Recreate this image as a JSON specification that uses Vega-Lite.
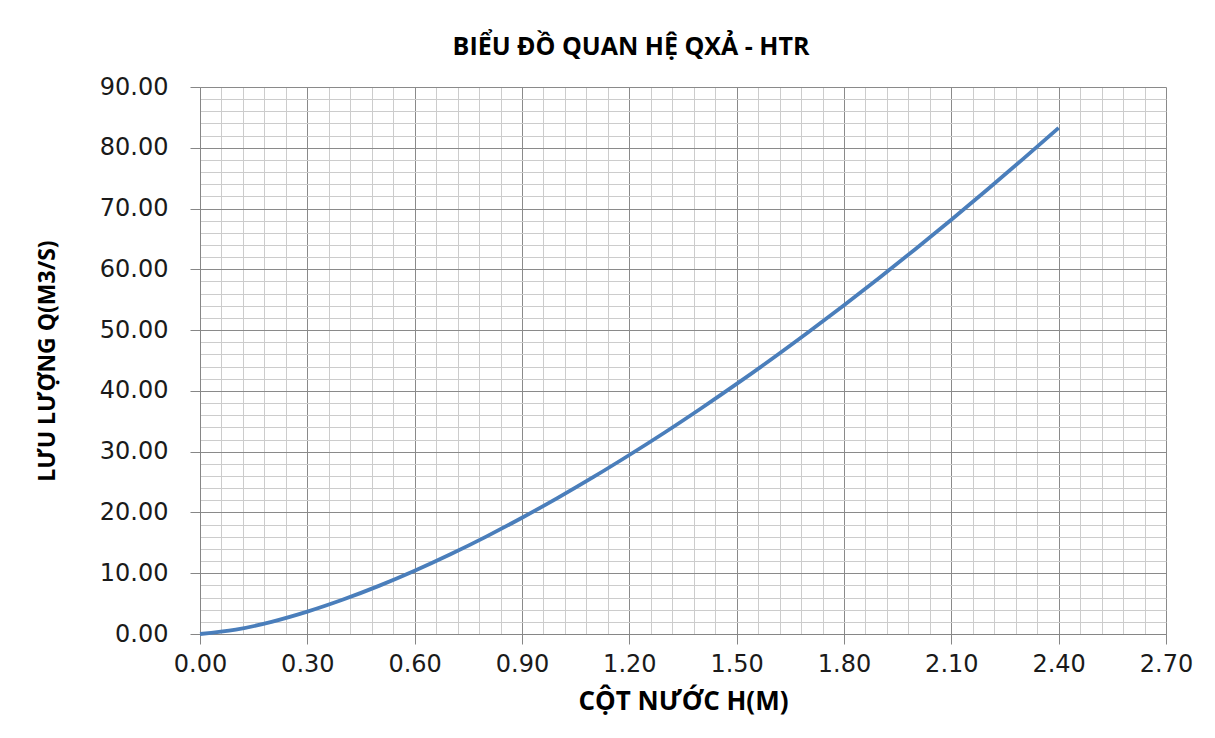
{
  "$schema": "https://vega.github.io/schema/vega-lite/v6.json",
  "width": 966,
  "height": 547,
  "autosize": "none",
  "padding": {"left": 200, "top": 87, "right": 49, "bottom": 104},
  "background": "white",
  "config": {"view": {"stroke": null}},
  "title": {
    "text": "BIỂU ĐỒ QUAN HỆ QXẢ - HTR",
    "font": "Open Sans",
    "fontWeight": "bold",
    "fontSize": 25,
    "color": "#000000",
    "offset": 15,
    "dx": -52
  },
  "data": {
    "values": [
      {"H": 0.0, "Q": 0.0},
      {"H": 0.1, "Q": 0.71},
      {"H": 0.2, "Q": 2.0},
      {"H": 0.3, "Q": 3.68},
      {"H": 0.4, "Q": 5.67},
      {"H": 0.5, "Q": 7.92},
      {"H": 0.6, "Q": 10.41},
      {"H": 0.7, "Q": 13.12},
      {"H": 0.8, "Q": 16.03},
      {"H": 0.9, "Q": 19.13},
      {"H": 1.0, "Q": 22.4},
      {"H": 1.1, "Q": 25.84},
      {"H": 1.2, "Q": 29.45},
      {"H": 1.3, "Q": 33.2},
      {"H": 1.4, "Q": 37.11},
      {"H": 1.5, "Q": 41.15},
      {"H": 1.6, "Q": 45.33},
      {"H": 1.7, "Q": 49.65},
      {"H": 1.8, "Q": 54.09},
      {"H": 1.9, "Q": 58.66},
      {"H": 2.0, "Q": 63.36},
      {"H": 2.1, "Q": 68.17},
      {"H": 2.2, "Q": 73.09},
      {"H": 2.3, "Q": 78.13},
      {"H": 2.4, "Q": 83.28}
    ]
  },
  "mark": {"type": "line", "color": "#4a7ebb", "strokeWidth": 3.8, "interpolate": "monotone"},
  "encoding": {
    "x": {
      "field": "H",
      "type": "quantitative",
      "scale": {"domain": [0, 2.7], "nice": false, "zero": false},
      "axis": {
        "title": "CỘT NƯỚC H(M)",
        "titleFont": "Open Sans",
        "titleFontWeight": "bold",
        "titleFontSize": 26,
        "titleColor": "#000000",
        "titlePadding": 12,
        "values": [0,0.06,0.12,0.18,0.24,0.3,0.36,0.42,0.48,0.54,0.6,0.66,0.72,0.78,0.84,0.9,0.96,1.02,1.08,1.14,1.2,1.26,1.32,1.38,1.44,1.5,1.56,1.62,1.68,1.74,1.8,1.86,1.92,1.98,2.04,2.1,2.16,2.22,2.28,2.34,2.4,2.46,2.52,2.58,2.64,2.7],
        "labelExpr": "abs(datum.value/0.3 - round(datum.value/0.3)) < 0.001 ? format(datum.value, '.2f') : ''",
        "labelFont": "DejaVu Sans",
        "labelFontSize": 24,
        "labelColor": "#1a1a1a",
        "labelPadding": 8,
        "labelOverlap": false,
        "labelFlush": false,
        "tickSize": 10,
        "tickColor": "#868686",
        "tickOpacity": {"condition": {"test": "abs(datum.value/0.3 - round(datum.value/0.3)) < 0.001", "value": 1}, "value": 0},
        "domainColor": "#868686",
        "domainWidth": 1,
        "grid": true,
        "gridWidth": 1,
        "gridColor": {"condition": {"test": "abs(datum.value/0.3 - round(datum.value/0.3)) < 0.001", "value": "#8a8a8a"}, "value": "#cccccc"}
      }
    },
    "y": {
      "field": "Q",
      "type": "quantitative",
      "scale": {"domain": [0, 90], "nice": false},
      "axis": {
        "title": "LƯU LƯỢNG Q(M3/S)",
        "titleFont": "Open Sans",
        "titleFontWeight": "bold",
        "titleFontSize": 23,
        "titleColor": "#000000",
        "titlePadding": 40,
        "values": [0,2,4,6,8,10,12,14,16,18,20,22,24,26,28,30,32,34,36,38,40,42,44,46,48,50,52,54,56,58,60,62,64,66,68,70,72,74,76,78,80,82,84,86,88,90],
        "labelExpr": "datum.value % 10 == 0 ? format(datum.value, '.2f') : ''",
        "labelFont": "DejaVu Sans",
        "labelFontSize": 24,
        "labelColor": "#1a1a1a",
        "labelPadding": 22,
        "labelOverlap": false,
        "labelFlush": false,
        "tickSize": 10,
        "tickColor": "#868686",
        "tickOpacity": {"condition": {"test": "datum.value % 10 == 0", "value": 1}, "value": 0},
        "domainColor": "#868686",
        "domainWidth": 1,
        "grid": true,
        "gridWidth": 1,
        "gridColor": {"condition": {"test": "datum.value % 10 == 0", "value": "#8a8a8a"}, "value": "#cccccc"}
      }
    }
  }
}
